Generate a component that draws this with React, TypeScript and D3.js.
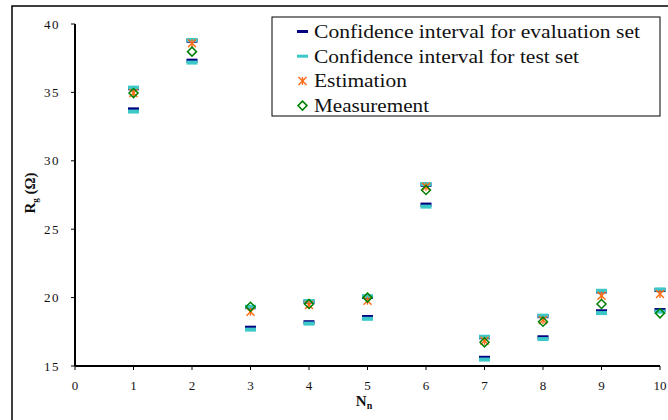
import React from "react";
import * as d3 from "d3";

const nn = [1, 2, 3, 4, 5, 6, 7, 8, 9, 10];
const evalLower = [33.76, 37.32, 17.8, 18.2, 18.58, 26.8, 15.6, 17.1, 19.0, 19.09];
const evalUpper = [35.3, 38.78, 19.3, 19.7, 20.05, 28.25, 17.1, 18.64, 20.45, 20.55];
const testLower = [33.6, 37.18, 17.66, 18.1, 18.45, 26.65, 15.47, 16.97, 18.87, 18.97];
const testUpper = [35.35, 38.83, 19.33, 19.75, 20.1, 28.3, 17.14, 18.68, 20.5, 20.6];
const estimation = [34.96, 38.6, 18.97, 19.46, 19.77, 28.1, 16.85, 18.36, 20.14, 20.26];
const measurement = [34.95, 37.98, 19.33, 19.53, 20.0, 27.87, 16.73, 18.24, 19.53, 18.85];

const xTicks = [0, 1, 2, 3, 4, 5, 6, 7, 8, 9, 10];
const yTicks = [15, 20, 25, 30, 35, 40];
const legendLabels = [
  "Confidence interval for evaluation set",
  "Confidence interval for test set",
  "Estimation",
  "Measurement",
];

const NAVY = "#000080";
const CYAN = "#3CC8C8";
const ORANGE = "#FF6A13";
const GREEN = "#008000";
const FONT = "Liberation Serif, Times New Roman, DejaVu Serif, serif";

function Dash({ cx, cy, color }: { cx: number; cy: number; color: string }) {
  return <rect x={cx - 5.5} y={cy - 2} width={11} height={4} fill={color} />;
}

function Star({ cx, cy }: { cx: number; cy: number }) {
  const s = 4;
  return (
    <g stroke={ORANGE} strokeWidth={1.4} fill="none">
      <line x1={cx - s} y1={cy - s} x2={cx + s} y2={cy + s} />
      <line x1={cx - s} y1={cy + s} x2={cx + s} y2={cy - s} />
      <line x1={cx} y1={cy - s} x2={cx} y2={cy + s} />
    </g>
  );
}

function Diamond({ cx, cy }: { cx: number; cy: number }) {
  const s = 4.5;
  return (
    <path
      d={`M${cx},${cy - s}L${cx + s},${cy}L${cx},${cy + s}L${cx - s},${cy}Z`}
      fill="none"
      stroke={GREEN}
      strokeWidth={1.5}
    />
  );
}

export default function App() {
  const x = d3.scaleLinear().domain([0, 10]).range([75, 660]);
  const y = d3.scaleLinear().domain([15, 40]).range([366, 24]);

  const rowY = (i: number) => 31.5 + i * 24.7;
  const legendWidths = [326, 265, 93, 115];
  const ts = { fontFamily: FONT };

  return (
    <svg
      width={668}
      height={420}
      style={{ position: "absolute", left: 0, top: 0, background: "#fff", fontFamily: FONT }}
    >
      <rect x={0} y={0} width={668} height={420} fill="#fff" />
      <rect x={12} y={6} width={720} height={500} fill="none" stroke="#000" strokeWidth={1.5} />

      <line x1={x(0)} y1={y(15)} x2={x(0)} y2={y(40)} stroke="#000" strokeWidth={2} />
      <line x1={x(0)} y1={y(15)} x2={x(10)} y2={y(15)} stroke="#000" strokeWidth={2} />
      {yTicks.map((t) => (
        <g key={"y" + t}>
          <line x1={x(0) - 4} x2={x(0)} y1={y(t)} y2={y(t)} stroke="#000" strokeWidth={1} />
          <text x={60} y={y(t) + 4.5} textAnchor="end" fontSize={13} letterSpacing={1.5} fill="#111" style={ts}>
            {t}
          </text>
        </g>
      ))}
      {xTicks.map((t) => (
        <g key={"x" + t}>
          <line x1={x(t)} x2={x(t)} y1={y(15)} y2={y(15) + 4} stroke="#000" strokeWidth={1} />
          <text x={x(t)} y={389.5} textAnchor="middle" fontSize={13} fill="#111" style={ts}>
            {t}
          </text>
        </g>
      ))}

      <text
        transform={`translate(35,193) rotate(-90)`}
        textAnchor="middle"
        fontWeight="bold"
        fontSize={15}
        fill="#111"
        style={ts}
      >
        R<tspan fontSize={9} dy={3}>g</tspan>
        <tspan dy={-3}> </tspan>
        <tspan>(Ω)</tspan>
      </text>
      <text x={364} y={406} textAnchor="middle" fontWeight="bold" fontSize={15} fill="#111" style={ts}>
        N<tspan fontSize={10} dy={3}>n</tspan>
      </text>

      {nn.map((n, i) => (
        <g key={"m" + n}>
          <Dash cx={x(n)} cy={y(evalUpper[i])} color={NAVY} />
          <Dash cx={x(n)} cy={y(evalLower[i])} color={NAVY} />
          <Dash cx={x(n)} cy={y(testUpper[i])} color={CYAN} />
          <Dash cx={x(n)} cy={y(testLower[i])} color={CYAN} />
          <Star cx={x(n)} cy={y(estimation[i])} />
          <Diamond cx={x(n)} cy={y(measurement[i])} />
        </g>
      ))}

      <rect x={272} y={17} width={388} height={99} fill="#fff" stroke="#000" strokeWidth={1} />
      <rect x={297} y={rowY(0) - 1.5} width={11} height={3} fill={NAVY} />
      <rect x={297} y={rowY(1) - 1.5} width={11} height={3} fill={CYAN} />
      <Star cx={302.5} cy={rowY(2)} />
      <Diamond cx={302.5} cy={rowY(3)} />
      {legendLabels.map((l, i) => (
        <text
          key={l}
          x={314}
          y={rowY(i) + 6.5}
          fontSize={19}
          fill="#111"
          textLength={legendWidths[i]}
          lengthAdjust="spacingAndGlyphs"
          style={ts}
        >
          {l}
        </text>
      ))}
    </svg>
  );
}
